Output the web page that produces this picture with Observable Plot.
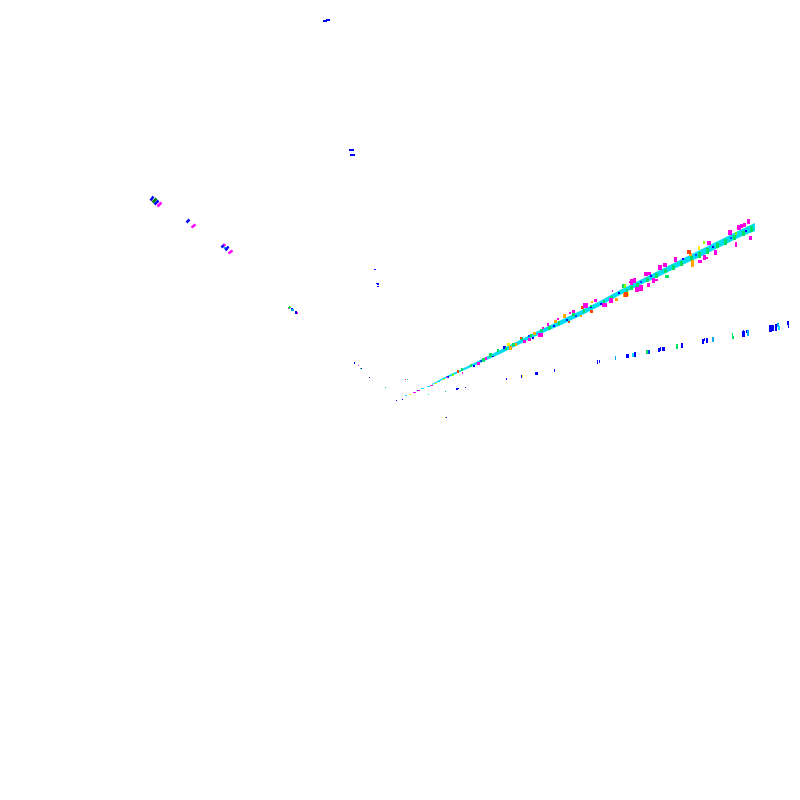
<!DOCTYPE html>
<html>
<head>
<meta charset="utf-8">
<script src="https://cdn.jsdelivr.net/npm/d3@7"></script>
<script src="https://cdn.jsdelivr.net/npm/@observablehq/plot@0.6"></script>
<style>html,body{margin:0;padding:0;background:#fff}svg{display:block}</style>
</head>
<body>
<div id="chart"></div>
<script>
const bandX   = [432,442,450,460,480,500,520,540,560,580,600,620,640,660,680,700,720,740,755];
const bandTop = [384,378.5,374.5,370,360,350,340,330,320.5,311,301,290,280,270,260,250,240,230,223];
const bandBot = [385,380,376.5,372,363,354,344,334,325.5,316,306,295,285,276,266,257,247,237,231];

const blue = [[323,327,20,22],[326,330,19,20.5],[349,354,149,151],[350,355,154,156],
 [374,376,269,270],[376,379,283,284],[377,379,284,285],[377,379,286,287],
 [291,293,308,309],[295,297,311,314],[354,355,362,364],[361,362,368,369],[369,370,377,378],
 [396,397,400,401],[402,403,399,400],[456,457.5,388,390],[457.5,459,388,389],[465,466,387,388],[446,447,417,418],
 [506,507,378,380],[521,522,375,378],[535,538,372,375],[554,555,369,372],[597,598,360,364],[599,600,360,363],
 [626,629,354,358],[634,636,352,357],[658,660,348,352],[660,661,347,351],[662,665,347,351],[681,683,343,348],
 [702,704,339,344],[704,705,338,341],[706,708,338,343],[742,745,331,337],[743,744,330,331],[746,747,330,333],
 [769,772,325,332],[772,774,325,331],[775,777,324,331],[787,789,321,325],[788,789,325,328],
 [503,506,346,349],[532,534,337,339],[553,555,325,327],[600,602,303,305],[682,684,258,260],[707,709,249,251],
 [417,418,390,391],[447,449,376,378],[473,475,365,367],[492,494,356,357],[515,517,343,345],[540,542,331,332],[566,568,319,321],[590,592,306,308],[618,620,292,294],[650,652,275,277],[712,714,246,248],[745,747,230,232]];
const royal = [[648,650,350,354],[480,482,360,362],[528,530,335,337],[575,577,315,317],[640,642,281,283],[695,697,254,256],[730,732,237,239]];
const sky = [[615,616,356,360],[712,714,337,342],[747,749,330,336],[777,779,323,327],[291,294,309,311],[224,226,247,249]];
const cyan = [[632,633.5,353,357],[778,780,326,330],[428,429,394,395],[405,407,395,396],[421,424,388,389],[427,430,386,387],[437,440,381,382]];
const teal = [[445,446,391,392]];
const green = [[288,291,307,308],[289,290,306,309],[360,361,368,369],[385,386,387,388],[407,408,379,380],
 [646,648,350,354],[676,678,344,349],[732,733,333,337],[732,734,336,339],
 [622,624,284,288],[497,499,349,352],[489,492,353,357],[665,669,275,278],
 [630,633,286,290],[636,639,283,287],[646,649,278,282],[655,658,273,278],[664,667,269,273],[672,675,265,270],
 [680,683,261,266],[690,693,256,261],[698,701,252,258],[706,709,248,254],[716,719,243,248],[724,727,239,245],
 [733,736,235,240],[742,745,231,236],[750,753,226,232],[520,523,337,340],[540,543,329,332],[572,575,313,316],[590,592,305,307],[610,613,296,299],[470,472,364,367],[505,507,347,350],
 [461,463,368,371],[482,485,358,362],[512,515,343,346],[530,532,334,337],[548,551,326,330],[558,560,321,325],[583,585,309,313],[603,605,300,303],[626,628,289,292]];
const lime = [[624,626,284,288],[703,705,241,244],[735,737,232,235],[452,454,374,376]];
const yellow = [[290,291,306,307],[522,523,375,377],[507,510,343,346],[698,700,246,250],[627,629,293,296],[409,411,394,395],[435,437,383,384],[443,445,379,380]];
const orange = [[445,446,417,418],[591,593,301,303],[615,618,298,301],[623,627,293,297],[563,566,314,318],[580,582,315,317],[554,557,320,323],[533,536,332,335],[515,517,343,346],[509,512,346,350],[691,694,260,267],[689,692,253,256]];
const red = [[624,628,292,297],[581,584,306,309],[590,593,310,313],[568,570,321,323],[520,522,337,339],[687,691,250,254],[457,459,370,373]];
const magenta = [[297,298,312,314],[358,359,365,366],[405,406,379,380],[288,289,308,309],
 [630,633,279,285],[633,636,278,283],[635,639,287,292],[639,643,285,291],[644,648,272,276],[648,651,272,275],[647,650,283,287],
 [652,655,278,283],[655,658,279,281],[658,662,265,270],[663,667,263,267],[674,677,257,262],[698,702,260,263],[707,711,241,245],
 [703,706,255,260],[706,708,257,259],[714,717,250,255],[728,732,230,235],[735,737,242,247],[737,741,225,230],[740,743,224,228],[743,746,223,227],[747,750,219,224],[749,752,236,240],
 [583,588,303,308],[594,597,299,302],[602,607,303,307],[609,613,298,303],[612,613,290,292],[629,630,281,283],
 [572,575,310,313],[569,571,312,314],[557,559,318,320],[547,549,323,326],[542,544,327,329],[538,543,333,337],[523,526,340,343],[528,531,338,341],[485,487,357,360],
 [413,416,392,393],[418,420,390,391],[430,433,385,386],[446,448,377,378],[462,463,372,374],[477,480,362,365]];

// short diagonal dashes: x1, y1, x2, y2
const blueDash = [[150,200,153,196],[154,204,158,200],[186,222,189,219],[225,250,228,246],[221,247,224,244]];
const greenDash = [[152,202,156,198]];
const magentaDash = [[157,206,161,202],[191,227,195,224],[228,253,232,250],[223,245,225,244]];

const fills = {blue:"#0000ff",royal:"#0050ff",sky:"#00a8ff",cyan:"#00e0ff",teal:"#00c8a0",green:"#00e060",lime:"#80ff00",yellow:"#ffee00",orange:"#ffa500",red:"#ff4400",magenta:"#ff00e0"};
const groups = {blue,royal,sky,cyan,teal,green,lime,yellow,orange,red,magenta};
const cells = Object.entries(groups).flatMap(([level,rows]) =>
  rows.map(([x1,x2,y1,y2]) => ({level,x1,x2,y1,y2})));
const dashes = Object.entries({blue:blueDash,green:greenDash,magenta:magentaDash}).flatMap(([level,rows]) =>
  rows.map(([x1,y1,x2,y2]) => ({level,x1,y1,x2,y2})));
const band = bandX.map((x,i) => ({x,top:bandTop[i],bot:bandBot[i]}));

const chart = Plot.plot({
  width:800,height:800,margin:0,
  x:{axis:null,domain:[0,800],range:[0,800]},
  y:{axis:null,domain:[0,800],range:[0,800]},
  color:{type:"ordinal",domain:Object.keys(fills),range:Object.values(fills)},
  style:{background:"#fff"},
  marks:[
    Plot.areaY(band,{x:"x",y1:"top",y2:"bot",fill:"#00dcf0"}),
    Plot.rect(cells,{x1:"x1",x2:"x2",y1:"y1",y2:"y2",fill:"level",shapeRendering:"crispEdges"}),
    Plot.link(dashes,{x1:"x1",y1:"y1",x2:"x2",y2:"y2",stroke:"level",strokeWidth:2.5})
  ]
});
document.getElementById("chart").append(chart);
</script>
</body>
</html>
